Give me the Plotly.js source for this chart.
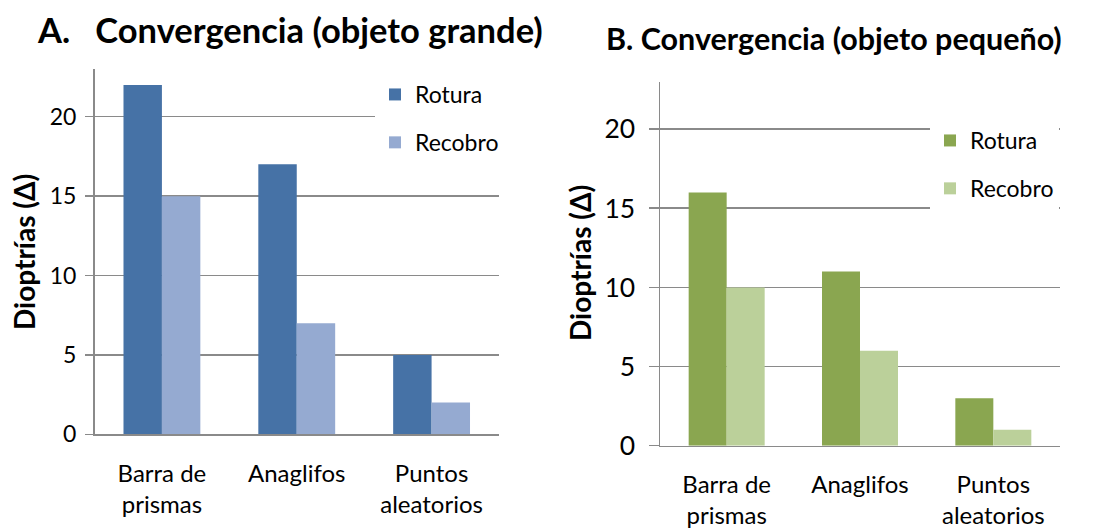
<!DOCTYPE html>
<html>
<head>
<meta charset="utf-8">
<script src="https://cdn.plot.ly/plotly-3.0.1.min.js"></script>
<style>html,body{margin:0;padding:0;background:#fff}#chart{width:1102px;height:530px}</style>
</head>
<body>
<div id="chart"></div>
<script>
const categories = ["Barra de<br>prismas", "Anaglifos", "Puntos<br>aleatorios"];
const seriesNames = ["Rotura", "Recobro"];
const grandeRotura = [22, 17, 5];
const grandeRecobro = [15, 7, 2];
const pequenoRotura = [16, 11, 3];
const pequenoRecobro = [10, 6, 1];
const yTicks = [0, 5, 10, 15, 20];
const titleA = "A.\u00A0\u00A0\u00A0Convergencia (objeto grande)";
const titleB = "B. Convergencia (objeto pequeño)";
const yTitle = "Dioptrías (Δ)";

const FONT = "Lato, 'Open Sans', sans-serif";
const GRID = "#8a8a8a";

function bar(name, y, color, xa, ya, leg, grp) {
  return {
    type: "bar", name: name, x: categories, y: y,
    xaxis: xa, yaxis: ya, legend: leg, legendgroup: grp,
    marker: {color: color, line: {width: 0}},
    hoverinfo: "skip"
  };
}

const data = [
  bar(seriesNames[0], grandeRotura, "#4672A6", "x", "y", "legend", "a1"),
  bar(seriesNames[1], grandeRecobro, "#95AAD1", "x", "y", "legend", "a2"),
  bar(seriesNames[0], pequenoRotura, "#8AA650", "x2", "y2", "legend2", "b1"),
  bar(seriesNames[1], pequenoRecobro, "#BBD09A", "x2", "y2", "legend2", "b2")
];

function xax(domain, anchor) {
  return {
    domain: domain, anchor: anchor, type: "category",
    showline: true, linecolor: GRID, linewidth: 1.5,
    showgrid: false, ticks: "", ticklabelstandoff: 17,
    tickfont: {family: FONT, size: 24, color: "#000"},
    fixedrange: true
  };
}
function yax(domain, anchor, size, ticklen, standoff) {
  return {
    domain: domain, anchor: anchor, range: [0, 23],
    tickvals: yTicks, ticktext: yTicks.map(String),
    showline: true, linecolor: GRID, linewidth: 1.5,
    showgrid: true, gridcolor: GRID, gridwidth: 1.5,
    zeroline: false,
    ticks: "outside", ticklen: ticklen, tickcolor: GRID, tickwidth: 1.5,
    ticklabelstandoff: standoff,
    tickfont: {family: FONT, size: size, color: "#000"},
    fixedrange: true
  };
}

const W = 1102, H = 530;
const layout = {
  width: W, height: H,
  margin: {l: 0, r: 0, t: 0, b: 0},
  paper_bgcolor: "#fff", plot_bgcolor: "rgba(0,0,0,0)",
  barmode: "group", bargap: 0.43, bargroupgap: 0,
  font: {family: FONT, color: "#000"},
  showlegend: true,
  xaxis: xax([94.5 / W, 499 / W], "y"),
  yaxis: yax([(H - 434.3) / H, (H - 69.1) / H], "x", 23, 8, 4),
  xaxis2: xax([660 / W, 1060 / W], "y2"),
  yaxis2: yax([(H - 445.7) / H, (H - 81.6) / H], "x2", 26.5, 10, 8),
  legend: {
    x: 375 / W, xanchor: "left", y: (H - 73) / H, yanchor: "top",
    bgcolor: "#fff", borderwidth: 0, tracegroupgap: 15,
    font: {family: FONT, size: 23, color: "#000"}
  },
  legend2: {
    x: 930 / W, xanchor: "left", y: (H - 119) / H, yanchor: "top",
    bgcolor: "#fff", borderwidth: 0, tracegroupgap: 15,
    font: {family: FONT, size: 23, color: "#000"}
  },
  annotations: [
    {text: "<b>" + titleA + "</b>", xref: "paper", yref: "paper",
     x: 290 / W, y: (H - 30) / H, xanchor: "center", yanchor: "middle",
     showarrow: false, font: {family: FONT, size: 34.5, color: "#000"}},
    {text: "<b>" + titleB + "</b>", xref: "paper", yref: "paper",
     x: 834 / W, y: (H - 38) / H, xanchor: "center", yanchor: "middle",
     showarrow: false, font: {family: FONT, size: 30.5, color: "#000"}},
    {text: "<b>" + yTitle + "</b>", xref: "paper", yref: "paper",
     x: 24 / W, y: (H - 252) / H, xanchor: "center", yanchor: "middle",
     textangle: -90, showarrow: false, font: {family: FONT, size: 28, color: "#000"}},
    {text: "<b>" + yTitle + "</b>", xref: "paper", yref: "paper",
     x: 580 / W, y: (H - 263) / H, xanchor: "center", yanchor: "middle",
     textangle: -90, showarrow: false, font: {family: FONT, size: 28, color: "#000"}}
  ]
};

Plotly.newPlot("chart", data, layout, {staticPlot: true, displayModeBar: false});
</script>
</body>
</html>
